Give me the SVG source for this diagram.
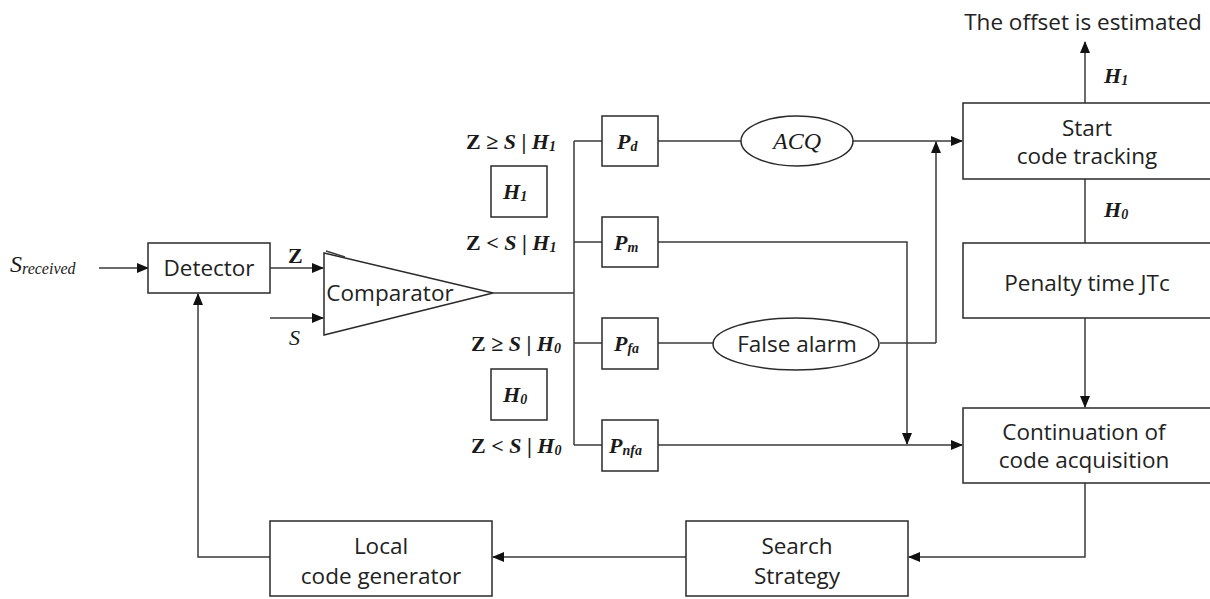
<svg xmlns="http://www.w3.org/2000/svg" width="1210" height="599" viewBox="0 0 1210 599">
  <defs>
    <marker id="arr" markerWidth="12" markerHeight="10" refX="11" refY="5" orient="auto" markerUnits="userSpaceOnUse">
      <path d="M0,0 L12,5 L0,10 Z" fill="#111"/>
    </marker>
    <style>
      .box { fill: #fff; stroke: #2a2a2a; stroke-width: 1.5; }
      .ln { fill: none; stroke: #3a3a3a; stroke-width: 1.5; }
      .arw { fill: none; stroke: #3a3a3a; stroke-width: 1.5; marker-end: url(#arr); }
      .sans { font-family: "Open Sans", "Noto Sans", sans-serif; font-size: 22.5px; fill: #222; text-anchor: middle; }
      .math { font-family: "Liberation Serif", "DejaVu Serif", serif; font-size: 22px; fill: #1a1a1a; font-weight: bold; }
      .plain { font-weight: normal; }
      .bi { font-weight: bold; font-style: italic; }
      .it { font-style: italic; }
      .sub { font-size: 14px; font-style: italic; }
    </style>
  </defs>

  <rect width="1210" height="599" fill="#fff"/>

  <!-- connectors -->
  <g id="connectors">
    <path class="arw" d="M99,268 H148"/>
    <path class="arw" d="M270,268 H323"/>
    <path class="arw" d="M270,318 H323"/>
    <path class="ln" d="M493,293 H574"/>
    <path class="ln" d="M574,141 V445"/>
    <path class="ln" d="M574,141 H602"/>
    <path class="ln" d="M574,242 H602"/>
    <path class="ln" d="M574,343 H602"/>
    <path class="ln" d="M574,445 H602"/>
    <path class="ln" d="M658,141 H741"/>
    <path class="arw" d="M853,141 H962"/>
    <path class="ln" d="M658,343 H713"/>
    <path class="ln" d="M880,343 H936"/>
    <path class="arw" d="M936,343 V142"/>
    <path class="arw" d="M658,242 H907 V444"/>
    <path class="arw" d="M658,445 H962"/>
    <path class="arw" d="M1085,103 V42"/>
    <path class="ln" d="M1085,179 V243"/>
    <path class="arw" d="M1085,318 V407"/>
    <path class="arw" d="M1085,483 V557 H909"/>
    <path class="arw" d="M686,557 H493"/>
    <path class="arw" d="M270,557 H198 V294"/>
  </g>

  <!-- input signal -->
  <g id="input">
    <text class="math it plain" x="10" y="272" style="font-size:24px">S<tspan class="sub" style="font-size:16px" dy="2">received</tspan></text>
  </g>

  <g id="detector">
    <rect class="box" x="148" y="243" width="122" height="50"/>
    <text class="sans" x="209" y="276">Detector</text>
  </g>
  <text class="math" x="288" y="263" style="font-weight:600">Z</text>
  <text class="math it plain" x="289" y="345">S</text>

  <g id="comparator">
    <path class="box" d="M324,253 L493,293 L324,335 Z"/>
    <path class="ln" d="M326,251 L345,257" stroke-width="1"/>
    <text class="sans" x="390" y="301">Comparator</text>
  </g>

  <!-- hypothesis labels -->
  <g id="labels">
    <text class="math" x="466" y="149">Z ≥ <tspan class="it">S</tspan> | <tspan class="bi">H</tspan><tspan class="sub" dy="2">1</tspan></text>
    <text class="math" x="466" y="250">Z &lt; <tspan class="it">S</tspan> | <tspan class="bi">H</tspan><tspan class="sub" dy="2">1</tspan></text>
    <text class="math" x="471" y="351">Z ≥ <tspan class="it">S</tspan> | <tspan class="bi">H</tspan><tspan class="sub" dy="2">0</tspan></text>
    <text class="math" x="471" y="453">Z &lt; <tspan class="it">S</tspan> | <tspan class="bi">H</tspan><tspan class="sub" dy="2">0</tspan></text>
  </g>

  <g id="h1">
    <rect class="box" x="491" y="166" width="56" height="51"/>
    <text class="math" x="503" y="199"><tspan class="bi">H</tspan><tspan class="sub" dy="2">1</tspan></text>
  </g>
  <g id="h0">
    <rect class="box" x="491" y="369" width="56" height="51"/>
    <text class="math" x="503" y="402"><tspan class="bi">H</tspan><tspan class="sub" dy="2">0</tspan></text>
  </g>

  <g id="pd">
    <rect class="box" x="602" y="116" width="56" height="50"/>
    <text class="math" x="617" y="149"><tspan class="bi">P</tspan><tspan class="sub" dy="2">d</tspan></text>
  </g>
  <g id="pm">
    <rect class="box" x="602" y="217" width="56" height="50"/>
    <text class="math" x="614" y="250"><tspan class="bi">P</tspan><tspan class="sub" dy="2">m</tspan></text>
  </g>
  <g id="pfa">
    <rect class="box" x="602" y="318" width="56" height="51"/>
    <text class="math" x="614" y="351"><tspan class="bi">P</tspan><tspan class="sub" dy="2">fa</tspan></text>
  </g>
  <g id="pnfa">
    <rect class="box" x="602" y="420" width="56" height="51"/>
    <text class="math" x="609" y="453"><tspan class="bi">P</tspan><tspan class="sub" dy="2">nfa</tspan></text>
  </g>

  <g id="acq">
    <ellipse class="box" cx="797" cy="141" rx="56" ry="25"/>
    <text class="math it plain" x="797" y="149" text-anchor="middle" style="font-size:24px">ACQ</text>
  </g>
  <g id="false-alarm">
    <ellipse class="box" cx="796" cy="344" rx="83" ry="26"/>
    <text class="sans" x="797" y="352">False alarm</text>
  </g>

  <g id="offset">
    <text class="sans" x="1083" y="30">The offset is estimated</text>
  </g>
  <text class="math" x="1104" y="83"><tspan class="bi">H</tspan><tspan class="sub" dy="2">1</tspan></text>
  <text class="math" x="1104" y="217"><tspan class="bi">H</tspan><tspan class="sub" dy="2">0</tspan></text>

  <g id="start-tracking">
    <rect class="box" x="963" y="103" width="260" height="76"/>
    <text class="sans" x="1087" y="136">Start</text>
    <text class="sans" x="1087" y="164">code tracking</text>
  </g>
  <g id="penalty">
    <rect class="box" x="963" y="243" width="260" height="75"/>
    <text class="sans" x="1087" y="291">Penalty time JTc</text>
  </g>
  <g id="continuation">
    <rect class="box" x="963" y="408" width="260" height="75"/>
    <text class="sans" x="1084" y="440">Continuation of</text>
    <text class="sans" x="1084" y="468">code acquisition</text>
  </g>

  <g id="search">
    <rect class="box" x="686" y="521" width="222" height="75"/>
    <text class="sans" x="797" y="554">Search</text>
    <text class="sans" x="797" y="584">Strategy</text>
  </g>
  <g id="local-gen">
    <rect class="box" x="270" y="521" width="222" height="75"/>
    <text class="sans" x="381" y="554">Local</text>
    <text class="sans" x="381" y="584">code generator</text>
  </g>
</svg>
